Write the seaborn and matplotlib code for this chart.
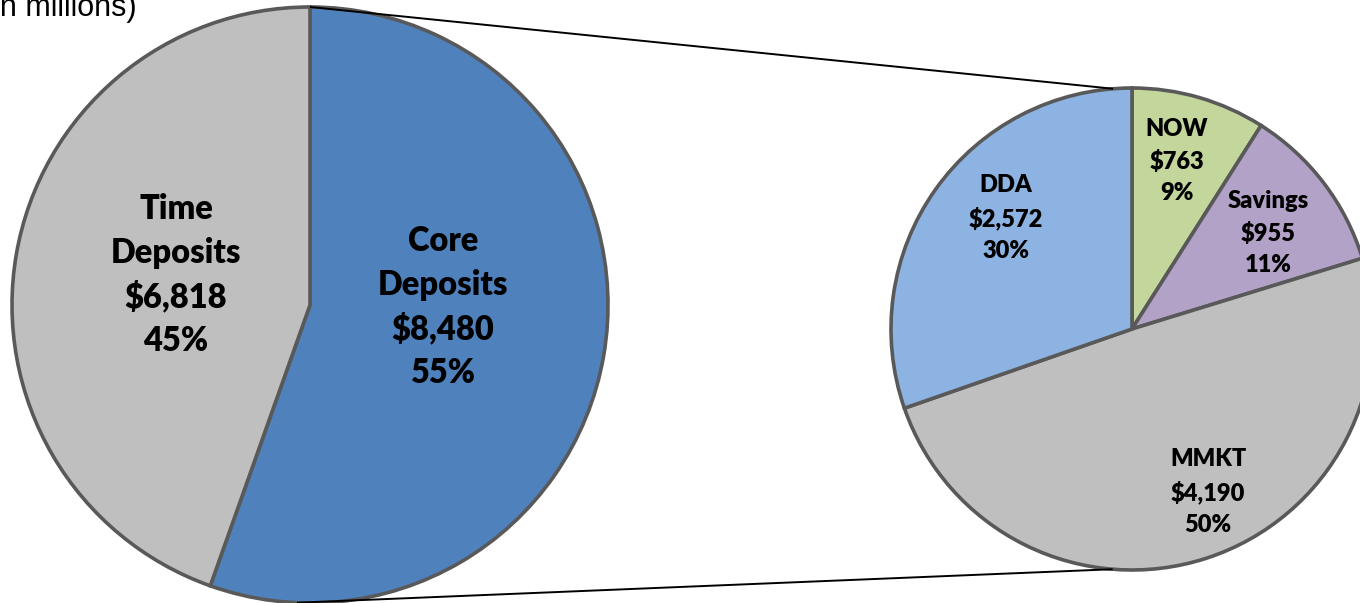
import numpy as np
import matplotlib
matplotlib.use("Agg")
import matplotlib.pyplot as plt
import seaborn as sns

# ---- data ----
main_labels = ["Core\nDeposits", "Time\nDeposits"]
main_values = [8480, 6818]
main_pcts = [55, 45]
main_colors = ["#4F81BD", "#BFBFBF"]

core_labels = ["NOW", "Savings", "MMKT", "DDA"]
core_values = [763, 955, 4190, 2572]
core_pcts = [9, 11, 50, 30]
core_colors = ["#C3D69B", "#B2A2C7", "#BFBFBF", "#8DB3E2"]

subtitle = "(in millions)"

sns.set_theme(style="white")
plt.rcParams["font.family"] = ["Lato", "DejaVu Sans"]

W, H = 1360, 603
fig = plt.figure(figsize=(W / 100, H / 100), dpi=100)
ax = fig.add_axes([0, 0, 1, 1])

edge = "#595959"
wp = dict(edgecolor=edge, linewidth=2.6)

# geometry (pixel-like data units)
c1, r1 = (310, 298), 298
c2, r2 = (1132, 274), 241
# label anchor points (layout), pixel coords from top-left
pos1 = [(443, 307), (176, 275)]
pos2 = [(1177, 161), (1268, 233), (1208, 492), (1006, 218)]


def fmt(lbl, v, p):
    return f"{lbl}\n${v:,.0f}\n{p}%"


lab1 = [fmt(l, v, p) for l, v, p in zip(main_labels, main_values, main_pcts)]
lab2 = [fmt(l, v, p) for l, v, p in zip(core_labels, core_values, core_pcts)]

w1, t1 = ax.pie(main_values, colors=sns.color_palette(main_colors), startangle=90,
                counterclock=False, center=c1, radius=r1, labels=lab1,
                labeldistance=0.45, wedgeprops=wp,
                textprops=dict(fontsize=23.5, fontweight="heavy", color="black"))
w2, t2 = ax.pie(core_values, colors=sns.color_palette(core_colors), startangle=90,
                counterclock=False, center=c2, radius=r2, labels=lab2,
                labeldistance=0.72, wedgeprops=wp,
                textprops=dict(fontsize=17, fontweight="heavy", color="black"))
for texts, poss, ls in [(t1, pos1, 1.44), (t2, pos2, 1.53)]:
    for t, (px, py) in zip(texts, poss):
        t.set_position((px, H - py))
        t.set_ha("center")
        t.set_va("center")
        t.set_multialignment("center")
        t.set_linespacing(ls)


def pt(c, r, deg):
    a = np.deg2rad(deg)
    return c[0] + r * np.cos(a), c[1] + r * np.sin(a)


# connector lines
for a1, a2 in [(90, 94.5), (267.5, 265.4)]:
    p1 = pt(c1, r1, a1)
    p2 = pt(c2, r2, a2)
    ax.plot([p1[0], p2[0]], [p1[1], p2[1]], color="black", lw=1.4, zorder=5,
            solid_capstyle="butt")

ax.text(137, H - 16, subtitle, ha="right", va="baseline", fontsize=22,
        family=["Liberation Sans", "DejaVu Sans"], color="black")

ax.set_xlim(0, W)
ax.set_ylim(0, H)
ax.set_aspect("equal")
ax.axis("off")
fig.savefig("out.png", dpi=100)
